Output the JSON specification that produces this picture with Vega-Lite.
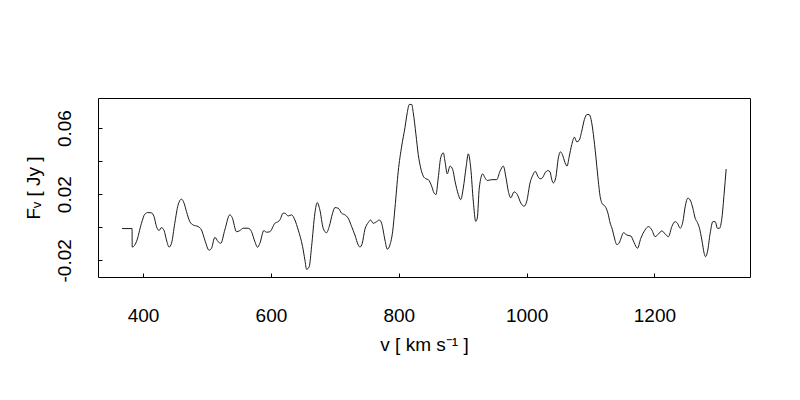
{
  "$schema": "https://vega.github.io/schema/vega-lite/v6.json",
  "autosize": {"type": "none"},
  "padding": {"left": 98, "top": 98, "right": 50, "bottom": 123},
  "width": 652,
  "height": 179,
  "background": "white",
  "config": {
    "view": {"stroke": "black", "strokeWidth": 1},
    "font": "Liberation Sans"
  },
  "data": {"values": [
    {"v": 367.1, "f": -0.0008}, {"v": 382.8, "f": -0.0008}, {"v": 383.0, "f": -0.012},
    {"v": 389.7, "f": -0.0087}, {"v": 397.5, "f": 0.0024}, {"v": 402.7, "f": 0.0079}, {"v": 407.8, "f": 0.0089},
    {"v": 413.2, "f": 0.0087}, {"v": 417.2, "f": 0.0064}, {"v": 421.0, "f": 0.0004}, {"v": 425.0, "f": -0.002},
    {"v": 428.8, "f": -0.0002}, {"v": 432.9, "f": -0.002}, {"v": 436.6, "f": -0.0077}, {"v": 440.7, "f": -0.012},
    {"v": 444.5, "f": -0.0097}, {"v": 449.6, "f": 0.0024}, {"v": 454.8, "f": 0.0135}, {"v": 460.1, "f": 0.017},
    {"v": 464.2, "f": 0.0145}, {"v": 467.9, "f": 0.0095}, {"v": 473.1, "f": 0.0034}, {"v": 478.3, "f": 0.0014},
    {"v": 486.1, "f": 0.0004}, {"v": 491.4, "f": -0.0016}, {"v": 496.6, "f": -0.0077}, {"v": 503.3, "f": -0.0139},
    {"v": 507.1, "f": -0.0127}, {"v": 512.3, "f": -0.0061}, {"v": 517.4, "f": -0.0087}, {"v": 521.6, "f": -0.0097},
    {"v": 527.9, "f": -0.0016}, {"v": 535.7, "f": 0.0075}, {"v": 539.3, "f": 0.006}, {"v": 546.2, "f": -0.0027},
    {"v": 551.4, "f": -0.002}, {"v": 556.6, "f": -0.0006}, {"v": 564.4, "f": -0.0006}, {"v": 569.7, "f": -0.0027},
    {"v": 574.9, "f": -0.0087}, {"v": 579.1, "f": -0.0121}, {"v": 582.7, "f": -0.0097}, {"v": 589.0, "f": -0.002},
    {"v": 593.2, "f": -0.003}, {"v": 598.4, "f": -0.0027}, {"v": 606.2, "f": 0.0024}, {"v": 611.4, "f": 0.0034},
    {"v": 614.0, "f": 0.0044}, {"v": 619.2, "f": 0.0085}, {"v": 621.8, "f": 0.0085}, {"v": 627.0, "f": 0.0068},
    {"v": 632.3, "f": 0.0075}, {"v": 637.5, "f": 0.0044}, {"v": 642.7, "f": -0.0016}, {"v": 649.6, "f": -0.0118},
    {"v": 653.2, "f": -0.0198}, {"v": 655.8, "f": -0.0255}, {"v": 659.9, "f": -0.0239}, {"v": 663.6, "f": -0.0118},
    {"v": 668.8, "f": 0.0085}, {"v": 672.4, "f": 0.0149}, {"v": 676.6, "f": 0.0105}, {"v": 681.8, "f": -0.0006},
    {"v": 687.1, "f": -0.0033}, {"v": 691.2, "f": 0.0004}, {"v": 696.5, "f": 0.0085}, {"v": 700.1, "f": 0.0119},
    {"v": 705.3, "f": 0.0115}, {"v": 710.6, "f": 0.0085}, {"v": 715.8, "f": 0.0075}, {"v": 720.9, "f": 0.0055},
    {"v": 726.3, "f": 0.0004}, {"v": 731.4, "f": -0.0047}, {"v": 736.6, "f": -0.0107}, {"v": 739.3, "f": -0.012},
    {"v": 742.9, "f": -0.0097}, {"v": 747.1, "f": -0.0012}, {"v": 752.3, "f": 0.0028}, {"v": 756.0, "f": 0.0044},
    {"v": 760.1, "f": 0.0024}, {"v": 765.4, "f": 0.0034}, {"v": 769.5, "f": 0.0044}, {"v": 773.2, "f": 0.0024},
    {"v": 778.4, "f": -0.0077}, {"v": 782.0, "f": -0.0133}, {"v": 786.2, "f": -0.0107}, {"v": 790.5, "f": -0.0024},
    {"v": 794.1, "f": 0.0117}, {"v": 799.2, "f": 0.0339}, {"v": 804.6, "f": 0.0491}, {"v": 809.7, "f": 0.0602},
    {"v": 813.3, "f": 0.0693}, {"v": 816.5, "f": 0.0743}, {"v": 820.2, "f": 0.0743}, {"v": 822.7, "f": 0.0693},
    {"v": 826.9, "f": 0.0561}, {"v": 830.5, "f": 0.044}, {"v": 834.3, "f": 0.0359}, {"v": 838.4, "f": 0.0309},
    {"v": 842.6, "f": 0.0293}, {"v": 846.2, "f": 0.0288}, {"v": 851.5, "f": 0.0248}, {"v": 855.1, "f": 0.0208},
    {"v": 858.2, "f": 0.0198}, {"v": 861.8, "f": 0.0299}, {"v": 865.6, "f": 0.042}, {"v": 869.7, "f": 0.045},
    {"v": 872.3, "f": 0.04}, {"v": 875.9, "f": 0.0323}, {"v": 880.2, "f": 0.037}, {"v": 884.4, "f": 0.0349},
    {"v": 888.0, "f": 0.0279}, {"v": 893.2, "f": 0.0198}, {"v": 896.9, "f": 0.0167}, {"v": 901.0, "f": 0.0238},
    {"v": 905.2, "f": 0.0359}, {"v": 908.8, "f": 0.0444}, {"v": 912.6, "f": 0.0359}, {"v": 916.6, "f": 0.0158},
    {"v": 920.4, "f": 0.0036}, {"v": 922.9, "f": 0.0056}, {"v": 926.0, "f": 0.0238}, {"v": 931.4, "f": 0.0323},
    {"v": 934.9, "f": 0.0299}, {"v": 938.6, "f": 0.0283}, {"v": 945.5, "f": 0.0288}, {"v": 953.3, "f": 0.0288},
    {"v": 958.4, "f": 0.0339}, {"v": 963.6, "f": 0.037}, {"v": 967.8, "f": 0.0299}, {"v": 971.4, "f": 0.0218},
    {"v": 975.2, "f": 0.0178}, {"v": 980.4, "f": 0.0214}, {"v": 985.5, "f": 0.0198}, {"v": 990.9, "f": 0.0147},
    {"v": 996.0, "f": 0.0127}, {"v": 1000.3, "f": 0.0158}, {"v": 1005.4, "f": 0.0268}, {"v": 1009.7, "f": 0.0315},
    {"v": 1013.7, "f": 0.0338}, {"v": 1017.5, "f": 0.0309}, {"v": 1021.1, "f": 0.0293}, {"v": 1024.7, "f": 0.0299},
    {"v": 1028.9, "f": 0.0329}, {"v": 1033.1, "f": 0.0343}, {"v": 1036.7, "f": 0.0335}, {"v": 1039.4, "f": 0.0288},
    {"v": 1041.9, "f": 0.0268}, {"v": 1045.6, "f": 0.0299}, {"v": 1049.7, "f": 0.042}, {"v": 1052.8, "f": 0.0456},
    {"v": 1056.0, "f": 0.044}, {"v": 1060.2, "f": 0.039}, {"v": 1063.3, "f": 0.037}, {"v": 1066.5, "f": 0.0424},
    {"v": 1070.7, "f": 0.0501}, {"v": 1074.8, "f": 0.0545}, {"v": 1078.5, "f": 0.0517}, {"v": 1082.1, "f": 0.0525},
    {"v": 1086.3, "f": 0.0582}, {"v": 1090.4, "f": 0.0652}, {"v": 1094.6, "f": 0.0682}, {"v": 1097.8, "f": 0.0682},
    {"v": 1100.9, "f": 0.0652}, {"v": 1104.5, "f": 0.0561}, {"v": 1108.3, "f": 0.043}, {"v": 1111.4, "f": 0.0309},
    {"v": 1115.0, "f": 0.0188}, {"v": 1118.6, "f": 0.0141}, {"v": 1122.8, "f": 0.0127}, {"v": 1127.1, "f": 0.0087},
    {"v": 1130.7, "f": 0.0026}, {"v": 1134.3, "f": -0.0015}, {"v": 1137.4, "f": -0.0065}, {"v": 1141.2, "f": -0.0105},
    {"v": 1144.8, "f": -0.0095}, {"v": 1147.9, "f": -0.0065}, {"v": 1151.5, "f": -0.0033}, {"v": 1156.8, "f": -0.0047},
    {"v": 1163.1, "f": -0.0053}, {"v": 1168.2, "f": -0.0093}, {"v": 1173.4, "f": -0.0127}, {"v": 1178.7, "f": -0.0067},
    {"v": 1185.4, "f": -0.0016}, {"v": 1190.6, "f": 0.0004}, {"v": 1195.9, "f": -0.0016}, {"v": 1201.1, "f": -0.0057},
    {"v": 1206.2, "f": -0.0041}, {"v": 1211.6, "f": -0.0022}, {"v": 1216.8, "f": -0.0041}, {"v": 1221.9, "f": -0.0057},
    {"v": 1227.2, "f": 0.0004}, {"v": 1232.4, "f": 0.0034}, {"v": 1236.0, "f": 0.0024}, {"v": 1240.2, "f": -0.0006},
    {"v": 1244.5, "f": 0.0034}, {"v": 1248.1, "f": 0.0125}, {"v": 1252.3, "f": 0.0176}, {"v": 1255.9, "f": 0.0165},
    {"v": 1260.1, "f": 0.0115}, {"v": 1263.7, "f": 0.0055}, {"v": 1267.3, "f": 0.0028}, {"v": 1270.5, "f": -0.0006},
    {"v": 1274.2, "f": -0.0077}, {"v": 1277.8, "f": -0.0158}, {"v": 1279.8, "f": -0.0178}, {"v": 1283.0, "f": -0.0148},
    {"v": 1287.2, "f": -0.0036}, {"v": 1291.4, "f": 0.0034}, {"v": 1295.0, "f": 0.0034}, {"v": 1298.6, "f": -0.0006},
    {"v": 1301.8, "f": -0.0006}, {"v": 1305.5, "f": 0.0055}, {"v": 1309.1, "f": 0.0206}, {"v": 1312.2, "f": 0.0352}
  ]},
  "mark": {"type": "line", "interpolate": "monotone", "color": "#1a1a1a", "strokeWidth": 1},
  "encoding": {
    "x": {
      "field": "v", "type": "quantitative",
      "scale": {"domain": [329.5, 1349.5], "nice": false, "zero": false},
      "axis": {
        "title": "v [ km s⁻¹ ]",
        "values": [400, 600, 800, 1000, 1200],
        "format": "d",
        "grid": false, "domain": false,
        "tickSize": -4, "tickColor": "black", "tickWidth": 1,
        "labelFontSize": 19, "labelColor": "black", "labelPadding": 33,
        "labelFont": "Liberation Sans",
        "titleFontSize": 19, "titleFontWeight": "normal", "titleColor": "black",
        "titleFont": "Liberation Sans", "titlePadding": 10
      }
    },
    "y": {
      "field": "f", "type": "quantitative",
      "scale": {"domain": [-0.0301, 0.0782], "nice": false, "zero": false},
      "axis": {
        "title": "Fᵥ [ Jy ]",
        "values": [-0.02, 0, 0.02, 0.04, 0.06],
        "labelExpr": "abs(datum.value) < 1e-9 || abs(datum.value - 0.04) < 1e-9 ? '' : replace(format(datum.value, '.2f'), '−', '-')",
        "grid": false, "domain": false,
        "tickSize": -4, "tickColor": "black", "tickWidth": 1,
        "labelFontSize": 19, "labelColor": "black", "labelPadding": 28,
        "labelAngle": -90, "labelAlign": "center", "labelBaseline": "bottom",
        "labelFont": "Liberation Sans",
        "titleFontSize": 19, "titleFontWeight": "normal", "titleColor": "black",
        "titleFont": "Liberation Sans", "titlePadding": 12
      }
    }
  }
}
